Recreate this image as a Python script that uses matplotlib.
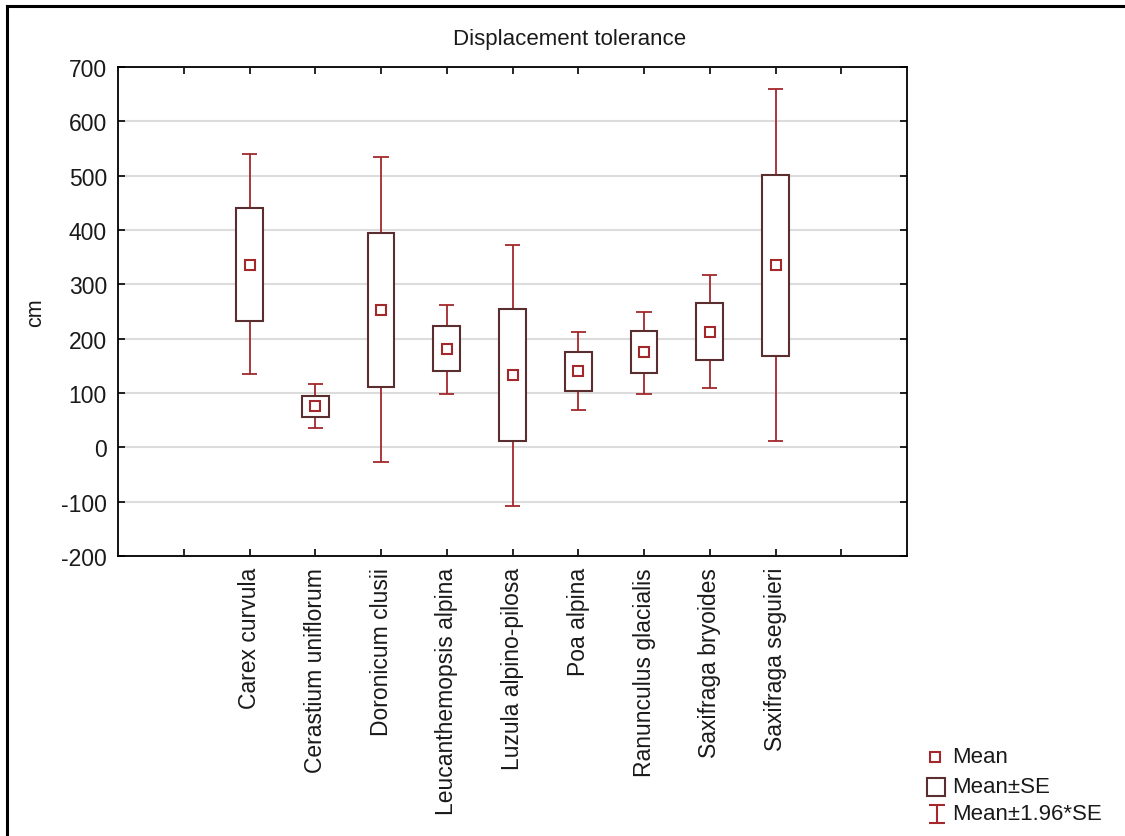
import matplotlib
matplotlib.use("Agg")
import matplotlib.pyplot as plt
from matplotlib.lines import Line2D
from matplotlib.patches import Rectangle
from matplotlib.path import Path
import numpy as np

plt.rcParams['font.family'] = ['Liberation Sans', 'DejaVu Sans']

species = ["Carex curvula", "Cerastium uniflorum", "Doronicum clusii",
           "Leucanthemopsis alpina", "Luzula alpino-pilosa", "Poa alpina",
           "Ranunculus glacialis", "Saxifraga bryoides", "Saxifraga seguieri"]
means = [336, 76, 253, 181, 133, 140, 175, 213, 335]
se_low = [232, 56, 111, 140, 12, 104, 137, 160, 169]
se_high = [440, 95, 394, 223, 255, 176, 214, 265, 501]
ci_low = [135, 35, -27, 98, -108, 68, 98, 110, 11]
ci_high = [540, 116, 534, 262, 372, 212, 250, 317, 660]
yticks = [-200, -100, 0, 100, 200, 300, 400, 500, 600, 700]
legend_labels = ["Mean", "Mean±SE", "Mean±1.96*SE"]

BOX_C = "#5a2e2e"
RED_C = "#a3282b"
TXT_C = "#1a1a1a"

W, H = 1125, 837
fig = plt.figure(figsize=(W / 100, H / 100), dpi=100)
ax = fig.add_axes([118 / W, 1 - 557 / H, (907 - 118) / W, (557 - 68) / H])

pos = np.arange(2, 2 + len(species))
bw = 0.41
cap = 0.115
for x, m, sl, sh, cl, ch in zip(pos, means, se_low, se_high, ci_low, ci_high):
    ax.vlines(x, sh, ch, color=RED_C, lw=1.3, zorder=3)
    ax.vlines(x, cl, sl, color=RED_C, lw=1.3, zorder=3)
    ax.hlines([cl, ch], x - cap, x + cap, color=RED_C, lw=1.3, zorder=3)
    ax.add_patch(Rectangle((x - bw / 2, sl), bw, sh - sl, facecolor="white",
                           edgecolor=BOX_C, lw=1.5, zorder=4))
    ax.plot([x], [m], marker="s", ms=7.5, mfc="white", mec=RED_C, mew=1.5, zorder=5)

ax.set_xlim(0, 12)
ax.set_ylim(-200, 700)
ax.set_yticks(yticks)
ax.set_yticklabels([str(v) for v in yticks])
ax.set_xticks(np.arange(1, 12))
ax.set_xticklabels([""] + species + [""], rotation=90, fontsize=16.5)
ax.tick_params(direction="in", top=True, right=True, length=5, width=1.2,
               colors="black", labelcolor=TXT_C)
ax.tick_params(axis="y", labelsize=16.5, pad=8)
ax.tick_params(axis="x", pad=8)
ax.grid(axis="y", color="#dcdcdc", lw=1.5, zorder=0)
ax.set_axisbelow(True)
for s in ax.spines.values():
    s.set_linewidth(1.3)

ax.set_ylabel("cm", fontsize=15.5, va="center", color=TXT_C)
ax.yaxis.set_label_coords((36 - 118) / 789, 0.5)
fig.text(570 / W, 1 - 40 / H, "Displacement tolerance", ha="center", va="center",
         fontsize=16, color=TXT_C)

# outer frame (top and left visible)
fig.add_artist(Line2D([7 / W, 1], [1 - 7 / H, 1 - 7 / H], color="black", lw=2.2))
fig.add_artist(Line2D([7 / W, 7 / W], [0, 1 - 7 / H], color="black", lw=2.2))

# legend drawn manually
ibeam = Path([(-0.9, 1), (0.9, 1), (0, 1), (0, -1), (-0.9, -1), (0.9, -1)],
             [Path.MOVETO, Path.LINETO, Path.MOVETO, Path.LINETO, Path.MOVETO, Path.LINETO])
leg_y = [757.5, 787.5, 814.5]
fig.add_artist(Line2D([935 / W], [1 - leg_y[0] / H], ls="none", marker="s", ms=7.5,
                      mfc="white", mec=RED_C, mew=1.5))
fig.add_artist(Line2D([935.5 / W], [1 - leg_y[1] / H], ls="none", marker="s", ms=13.5,
                      mfc="white", mec=BOX_C, mew=1.5))
fig.add_artist(Line2D([936.5 / W], [1 - leg_y[2] / H], ls="none", marker=ibeam, ms=13.5,
                      mec=RED_C, mew=1.5))
for lab, yy in zip(legend_labels, leg_y):
    fig.text(952 / W, 1 - yy / H, lab, ha="left", va="center", fontsize=16, color=TXT_C)

fig.savefig("out.png", dpi=100)
